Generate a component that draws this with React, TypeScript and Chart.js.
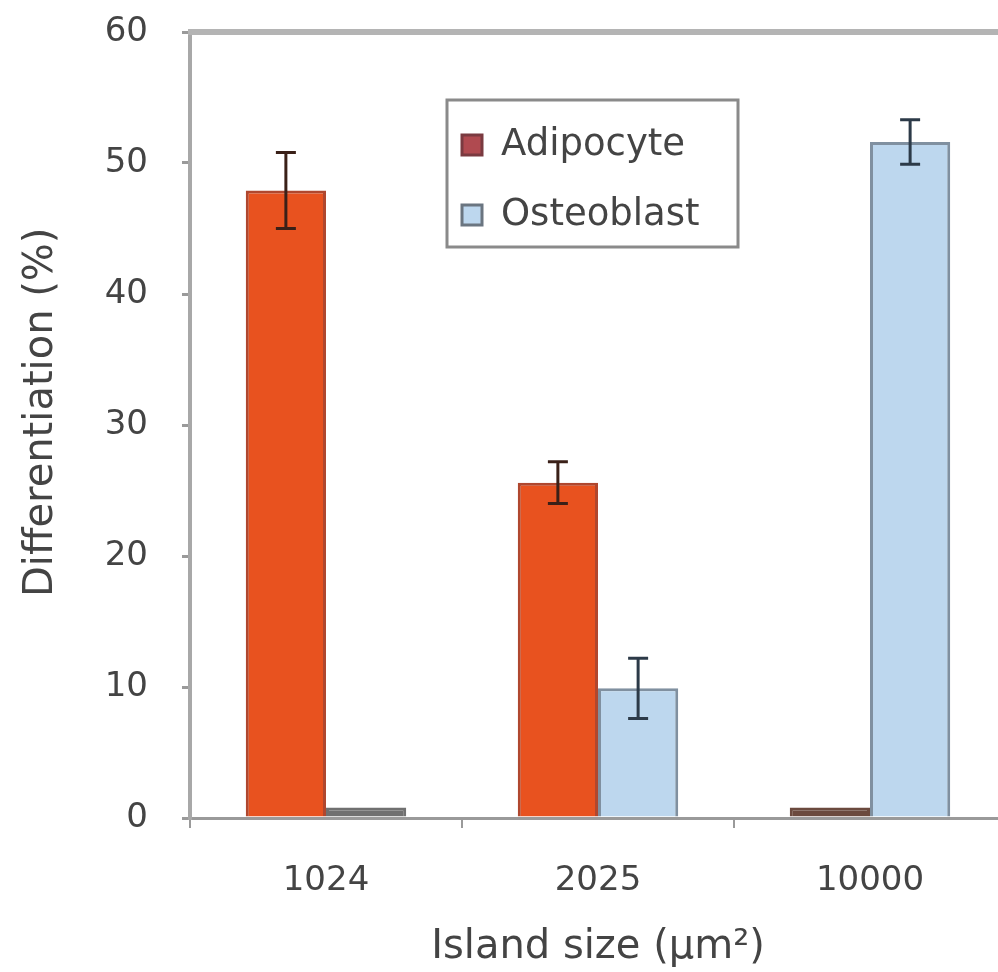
import React, { useEffect, useRef } from "react";
import { Chart, registerables } from "chart.js";

Chart.register(...registerables);

const categories = ["1024", "2025", "10000"];
const adipocyte = [47.9, 25.6, 0.8];
const adipocyteErr = [2.9, 1.6, 0];
const osteoblast = [0.8, 9.9, 51.6];
const osteoblastErr = [0, 2.3, 1.7];
const yTicks = [0, 10, 20, 30, 40, 50, 60];
const seriesNames = ["Adipocyte", "Osteoblast"];

const FONT = "'DejaVu Sans', 'Liberation Sans', sans-serif";
const TEXT = "#444444";

const errorBarsPlugin = {
  id: "errorBars",
  afterDatasetsDraw(chart: any) {
    const ctx = chart.ctx;
    const y = chart.scales.y;
    chart.data.datasets.forEach((ds: any, i: number) => {
      const meta = chart.getDatasetMeta(i);
      meta.data.forEach((bar: any, j: number) => {
        const e = ds.errors[j];
        if (!e) return;
        const v = ds.data[j];
        const yt = y.getPixelForValue(v + e);
        const yb = y.getPixelForValue(v - e);
        ctx.save();
        ctx.strokeStyle = ds.errorColor;
        ctx.lineWidth = 3;
        ctx.beginPath();
        ctx.moveTo(bar.x, yt);
        ctx.lineTo(bar.x, yb);
        ctx.moveTo(bar.x - 10, yt);
        ctx.lineTo(bar.x + 10, yt);
        ctx.moveTo(bar.x - 10, yb);
        ctx.lineTo(bar.x + 10, yb);
        ctx.stroke();
        ctx.restore();
      });
    });
  },
};

const framePlugin = {
  id: "frameTop",
  beforeDatasetsDraw(chart: any) {
    const { ctx, chartArea } = chart;
    ctx.save();
    ctx.strokeStyle = "#b4b4b4";
    ctx.lineWidth = 6;
    ctx.beginPath();
    ctx.moveTo(chartArea.left - 2, chartArea.top);
    ctx.lineTo(chartArea.right, chartArea.top);
    ctx.stroke();
    ctx.restore();
  },
};

const boxLegendPlugin = {
  id: "boxLegend",
  afterDraw(chart: any) {
    const { ctx, chartArea } = chart;
    const x0 = chartArea.left + 257;
    const y0 = chartArea.top + 68;
    const w = 291;
    const h = 147;
    ctx.save();
    ctx.fillStyle = "#ffffff";
    ctx.fillRect(x0, y0, w, h);
    ctx.strokeStyle = "#8a8a8a";
    ctx.lineWidth = 3;
    ctx.strokeRect(x0, y0, w, h);
    ctx.font = `37px ${FONT}`;
    ctx.textBaseline = "middle";
    chart.data.datasets.forEach((ds: any, i: number) => {
      const cy = y0 + 45 + i * 70;
      ctx.fillStyle = ds.legendFill;
      ctx.fillRect(x0 + 15, cy - 10, 20, 20);
      ctx.strokeStyle = ds.legendBorder;
      ctx.lineWidth = 3;
      ctx.strokeRect(x0 + 15, cy - 10, 20, 20);
      ctx.fillStyle = TEXT;
      ctx.fillText(ds.label, x0 + 54, cy);
    });
    ctx.restore();
  },
};

export default function App() {
  const ref = useRef<HTMLCanvasElement>(null);

  useEffect(() => {
    if (!ref.current) return;
    Chart.defaults.font.family = FONT;
    Chart.defaults.color = TEXT;
    const chart = new Chart(ref.current, {
      type: "bar",
      data: {
        labels: categories,
        datasets: [
          {
            label: seriesNames[0],
            data: adipocyte,
            backgroundColor: (c: any) => (c.raw < 2 ? "#6b4a3e" : "#e8521f"),
            borderColor: (c: any) => (c.raw < 2 ? "#6b4a3e" : "#b0472e"),
            borderWidth: 3,
            errors: adipocyteErr,
            errorColor: "#3a2018",
            legendFill: "#b04a50",
            legendBorder: "#7a3a40",
          } as any,
          {
            label: seriesNames[1],
            data: osteoblast,
            backgroundColor: (c: any) => (c.raw < 2 ? "#707070" : "#bdd7ee"),
            borderColor: (c: any) => (c.raw < 2 ? "#707070" : "#8090a0"),
            borderWidth: 3,
            errors: osteoblastErr,
            errorColor: "#2c3a48",
            legendFill: "#bdd7ee",
            legendBorder: "#6a7580",
          } as any,
        ],
      },
      options: {
        animation: false,
        responsive: true,
        maintainAspectRatio: false,
        layout: { padding: { top: 32, right: 0, left: 0, bottom: 0 } },
        datasets: { bar: { categoryPercentage: 0.59, barPercentage: 1 } },
        plugins: {
          legend: { display: false },
          tooltip: { enabled: false },
        },
        scales: {
          x: {
            afterFit: (s: any) => {
              s.height = 154;
              s.paddingLeft = 0;
              s.paddingRight = 0;
            },
            grid: {
              offset: true,
              drawOnChartArea: false,
              drawTicks: true,
              tickLength: 10,
              color: "#9a9a9a",
              lineWidth: 2,
            },
            border: { display: true, color: "#9a9a9a", width: 3 },
            ticks: { font: { size: 34 }, color: TEXT, padding: 33 },
            title: {
              display: true,
              text: "Island size (μm²)",
              font: { size: 40 },
              color: TEXT,
              padding: { top: 0, bottom: 0 },
            },
          },
          y: {
            min: 0,
            max: 60,
            afterFit: (s: any) => {
              s.width = 190;
              s.paddingTop = 0;
              s.paddingBottom = 0;
            },
            afterBuildTicks: (s: any) => {
              s.ticks = yTicks.map((v) => ({ value: v }));
            },
            grid: {
              drawOnChartArea: false,
              drawTicks: true,
              tickLength: 8,
              color: "#9a9a9a",
              lineWidth: 3,
            },
            border: { display: true, color: "#a8a8a8", width: 4 },
            ticks: { font: { size: 34 }, color: TEXT, padding: 34 },
            title: {
              display: true,
              text: "  Differentiation (%)",
              font: { size: 40 },
              color: TEXT,
              padding: { top: 18, bottom: 0 },
            },
          },
        },
      },
      plugins: [framePlugin, errorBarsPlugin, boxLegendPlugin],
    });
    return () => chart.destroy();
  }, []);

  return (
    <div
      style={{
        position: "fixed",
        left: 0,
        top: 0,
        width: 998,
        height: 972,
        overflow: "hidden",
        background: "#ffffff",
      }}
    >
      <div style={{ position: "relative", width: 1006, height: 972 }}>
        <canvas ref={ref} />
      </div>
    </div>
  );
}
